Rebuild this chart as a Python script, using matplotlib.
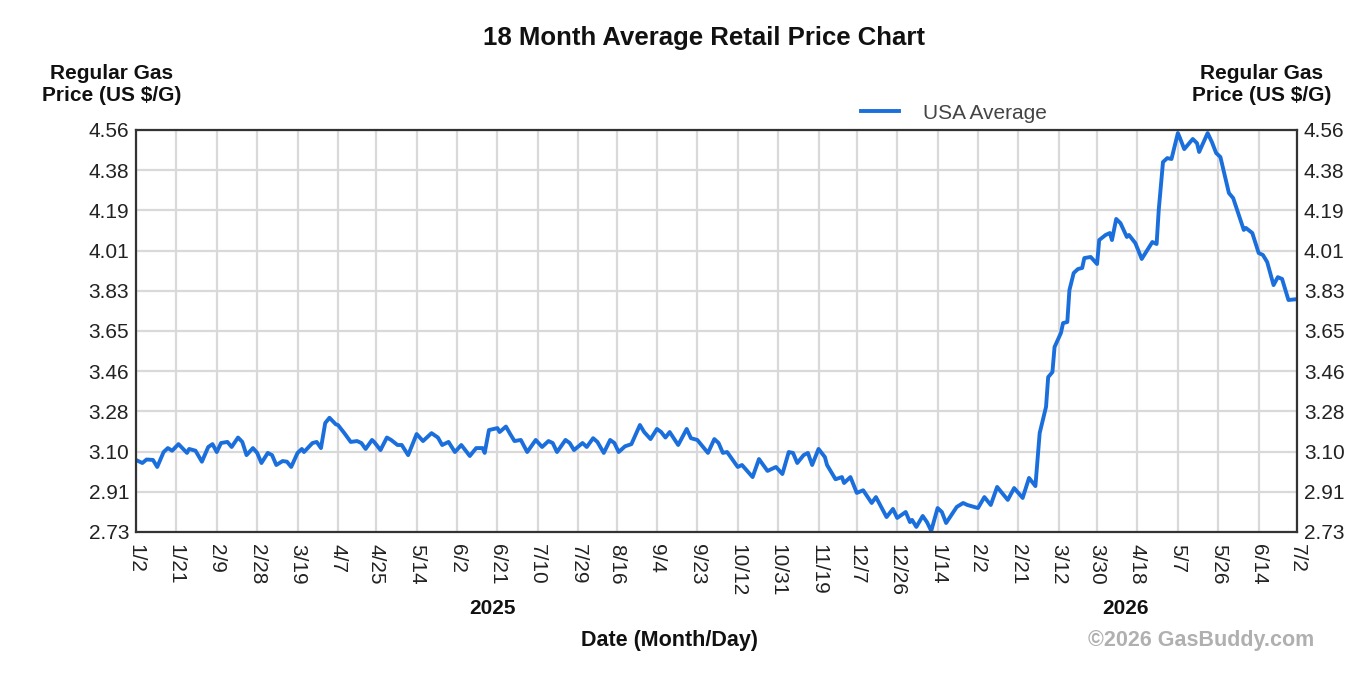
import matplotlib
matplotlib.use("Agg")
import matplotlib.pyplot as plt
import numpy as np
import pandas as pd

plt.rcParams['font.family'] = ['Liberation Sans', 'DejaVu Sans']

start = pd.Timestamp("2025-01-02")
end = pd.Timestamp("2026-07-02")

# days since 1/2/2025 and average price
days = [0, 3, 5, 8, 10, 13, 15, 17, 20, 24, 25, 28, 31, 34, 36, 38, 40, 43, 45, 48,
        50, 52, 55, 57, 59, 62, 64, 66, 69, 71, 73, 76, 78, 79, 83, 85, 87, 89, 91, 94,
        95, 98, 101, 104, 106, 108, 111, 112, 115, 118, 120, 123, 125, 128, 132, 135, 139, 142, 144, 147,
        150, 153, 157, 160, 163, 164, 166, 170, 171, 174, 176, 178, 181, 184, 188, 191, 194, 196, 198, 202,
        204, 206, 210, 212, 215, 217, 220, 223, 225, 227, 230, 233, 237, 239, 242, 245, 247, 249, 251, 255,
        259, 261, 264, 269, 272, 274, 276, 278, 283, 285, 290, 293, 297, 301, 304, 307, 309, 311, 314, 316,
        318, 321, 324, 325, 329, 332, 333, 336, 339, 342, 346, 348, 353, 356, 358, 362, 364, 365, 367, 370,
        372, 374, 377, 379, 381, 386, 389, 391, 396, 399, 402, 405, 410, 413, 417, 420, 423, 425, 428, 429,
        431, 432, 435, 436, 438, 439, 441, 443, 445, 446, 449, 452, 453, 456, 458, 459, 461, 463, 466, 467,
        470, 473, 475, 478, 480, 481, 483, 485, 487, 490, 491, 493, 497, 499, 500, 504, 506, 508, 510, 514,
        516, 521, 522, 525, 528, 530, 532, 535, 537, 539, 542, 546]

prices = [3.058, 3.044, 3.060, 3.058, 3.026, 3.094, 3.112, 3.100, 3.130, 3.090, 3.108, 3.100, 3.050, 3.117, 3.130, 3.094, 3.135, 3.140, 3.117, 3.160,
          3.140, 3.080, 3.112, 3.090, 3.044, 3.090, 3.080, 3.035, 3.053, 3.050, 3.026, 3.090, 3.108, 3.094, 3.135, 3.140, 3.112, 3.226, 3.250, 3.220,
          3.217, 3.180, 3.140, 3.144, 3.135, 3.108, 3.149, 3.140, 3.103, 3.160, 3.149, 3.126, 3.126, 3.080, 3.176, 3.144, 3.180, 3.160, 3.126, 3.140,
          3.094, 3.126, 3.076, 3.112, 3.112, 3.090, 3.194, 3.203, 3.185, 3.210, 3.176, 3.144, 3.149, 3.094, 3.149, 3.117, 3.144, 3.135, 3.094, 3.149,
          3.135, 3.103, 3.135, 3.117, 3.157, 3.140, 3.090, 3.149, 3.135, 3.094, 3.120, 3.130, 3.217, 3.185, 3.153, 3.199, 3.185, 3.160, 3.185, 3.126,
          3.199, 3.157, 3.149, 3.090, 3.153, 3.135, 3.090, 3.094, 3.026, 3.035, 2.980, 3.062, 3.008, 3.026, 2.994, 3.094, 3.090, 3.044, 3.080, 3.090,
          3.035, 3.108, 3.071, 3.035, 2.970, 2.980, 2.953, 2.980, 2.908, 2.920, 2.862, 2.889, 2.798, 2.835, 2.794, 2.821, 2.775, 2.785, 2.753, 2.803,
          2.775, 2.735, 2.839, 2.821, 2.771, 2.844, 2.862, 2.853, 2.839, 2.889, 2.853, 2.935, 2.876, 2.930, 2.885, 2.976, 2.939, 3.180, 3.300, 3.435,
          3.458, 3.572, 3.636, 3.681, 3.686, 3.831, 3.909, 3.927, 3.932, 3.977, 3.982, 3.950, 4.059, 4.082, 4.091, 4.059, 4.155, 4.136, 4.073, 4.082,
          4.045, 3.973, 4.004, 4.050, 4.041, 4.196, 4.414, 4.432, 4.428, 4.546, 4.523, 4.473, 4.519, 4.500, 4.460, 4.546, 4.505, 4.455, 4.437, 4.273,
          4.250, 4.105, 4.114, 4.091, 4.000, 3.991, 3.959, 3.854, 3.890, 3.882, 3.786, 3.790]

tick_dates = ["2025-01-02", "2025-01-21", "2025-02-09", "2025-02-28", "2025-03-19", "2025-04-07",
              "2025-04-25", "2025-05-14", "2025-06-02", "2025-06-21", "2025-07-10", "2025-07-29",
              "2025-08-16", "2025-09-04", "2025-09-23", "2025-10-12", "2025-10-31", "2025-11-19",
              "2025-12-07", "2025-12-26", "2026-01-14", "2026-02-02", "2026-02-21", "2026-03-12",
              "2026-03-30", "2026-04-18", "2026-05-07", "2026-05-26", "2026-06-14", "2026-07-02"]

y_labels = ["2.73", "2.91", "3.10", "3.28", "3.46", "3.65", "3.83", "4.01", "4.19", "4.38", "4.56"]

dates = start + pd.to_timedelta(days, unit="D")
ticks = pd.to_datetime(tick_dates)

fig = plt.figure(figsize=(13.72, 6.86), dpi=100)
ax = fig.add_axes([0.0991, 0.2245, 0.8462, 0.586])

ax.plot(dates, prices, color="#1b6fdc", lw=2.8, label="USA Average", solid_joinstyle="round")

ax.set_xlim(start, end)
ax.set_ylim(2.73, 4.56)
ax.set_xticks(ticks)
ax.set_xticklabels([f"{d.month}/{d.day}" for d in ticks], rotation=270, ha="center", va="top")
ax.set_yticks(np.linspace(2.73, 4.56, len(y_labels)))
ax.set_yticklabels(y_labels)

ax.grid(True, color="#d9d9d9", lw=1.6)
ax.set_axisbelow(True)
ax.tick_params(axis="both", length=0, labelsize=15, labelcolor="#222222")
ax.tick_params(axis="x", pad=9)
ax.tick_params(axis="y", pad=5, labelright=True)
for s in ax.spines.values():
    s.set_color("#333333")
    s.set_linewidth(1.6)

leg = ax.legend(loc="center", bbox_to_anchor=(0.7046, 1.042), frameon=False,
                fontsize=15, handlelength=1.85, handletextpad=1.15, borderpad=0)
for t in leg.get_texts():
    t.set_color("#444444")

fig.text(0.513, 0.9446, "18 Month Average Retail Price Chart", ha="center", va="center",
         fontsize=18.5, fontweight="bold", color="#111111")
fig.text(0.0816, 0.8768, "Regular Gas\nPrice (US $/G)", ha="center", va="center",
         fontsize=15, fontweight="bold", color="#111111", linespacing=1.25)
fig.text(0.9198, 0.8768, "Regular Gas\nPrice (US $/G)", ha="center", va="center",
         fontsize=15, fontweight="bold", color="#111111", linespacing=1.25)
fig.text(0.3593, 0.1137, "2025", ha="center", va="center", fontsize=15, fontweight="bold", color="#111111")
fig.text(0.820, 0.1137, "2026", ha="center", va="center", fontsize=15, fontweight="bold", color="#111111")
fig.text(0.4883, 0.0656, "Date (Month/Day)", ha="center", va="center", fontsize=15.5,
         fontweight="bold", color="#111111")
fig.text(0.8754, 0.0656, "\u00a92026 GasBuddy.com", ha="center", va="center", fontsize=15.5,
         fontweight="bold", color="#b0b0b0")

fig.savefig("out.png", dpi=100)
